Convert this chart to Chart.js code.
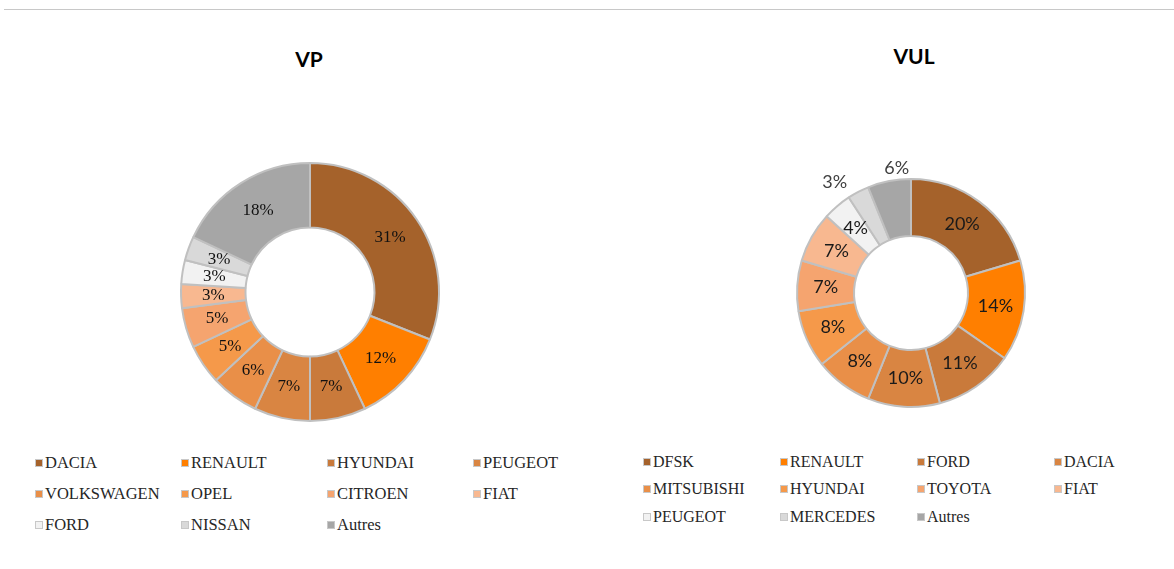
<!DOCTYPE html>
<html>
<head>
<meta charset="utf-8">
<script src="https://cdn.jsdelivr.net/npm/chart.js@4"></script>
<style>
  body { margin: 0; width: 1174px; height: 569px; background: #fff; position: relative; overflow: hidden; }
  .rule { position: absolute; left: 4px; right: 0; top: 9px; height: 1px; background: #c8c8c8; }
  .title { position: absolute; font-family: Lato, sans-serif; font-weight: bold; font-size: 21px; color: #000; transform: translateX(-50%); }
  .wrap { position: absolute; }
  .legend { position: absolute; display: grid; font-family: "Liberation Serif", serif; color: #262626; }
  .item { display: flex; align-items: center; white-space: nowrap; }
  .box { width: 6px; height: 6px; border: 1px solid #c8c8c8; margin-right: 2px; flex: none; }
</style>
</head>
<body>
<div class="rule"></div>
<div class="title" style="left:309px; top:46px;">VP</div>
<div class="title" style="left:914px; top:43px;">VUL</div>

<div class="wrap" style="left:170px; top:152px; width:280px; height:280px;"><canvas id="vpChart"></canvas></div>
<div class="wrap" style="left:761px; top:143px; width:300px; height:300px;"><canvas id="vulChart"></canvas></div>

<div class="legend" id="vpLegend" style="left:35px; top:447px; font-size:16.5px; grid-template-columns: repeat(4, 146px); grid-auto-rows: 31px;"></div>
<div class="legend" id="vulLegend" style="left:643px; top:448px; font-size:16px; grid-template-columns: repeat(4, 137px); grid-auto-rows: 27.5px;"></div>

<script>
// VP data
const vpLabels = ["DACIA", "RENAULT", "HYUNDAI", "PEUGEOT", "VOLKSWAGEN", "OPEL", "CITROEN", "FIAT", "FORD", "NISSAN", "Autres"];
const vpValues = [31, 12, 7, 7, 6, 5, 5, 3, 3, 3, 18];

// VUL data
const vulLabels = ["DFSK", "RENAULT", "FORD", "DACIA", "MITSUBISHI", "HYUNDAI", "TOYOTA", "FIAT", "PEUGEOT", "MERCEDES", "Autres"];
const vulValues = [20, 14, 11, 10, 8, 8, 7, 7, 4, 3, 6];

const palette = ["#a5622b", "#ff7f00", "#c97a3b", "#d98542", "#e98f48", "#f5994a", "#f5a46f", "#f8b890", "#f2f2f2", "#d9d9d9", "#a6a6a6"];

// draws the % labels on each slice
const pctLabels = {
    id: "pctLabels",
    afterDatasetsDraw(chart, args, opts) {
        const ctx = chart.ctx;
        const meta = chart.getDatasetMeta(0);
        const data = chart.data.datasets[0].data;
        ctx.save();
        ctx.font = opts.font;
        ctx.textAlign = "center";
        ctx.textBaseline = "middle";
        meta.data.forEach((arc, i) => {
            const p = arc.getProps(["x", "y", "startAngle", "endAngle", "innerRadius", "outerRadius"], true);
            let a = (p.startAngle + p.endAngle) / 2;
            let r = (p.innerRadius + p.outerRadius) / 2;
            const o = opts.outside && opts.outside[i];
            if (o) {
                r = p.outerRadius * o.r;
                a += o.a * Math.PI / 180;
            }
            ctx.fillStyle = o ? opts.outsideColor : opts.color;
            ctx.fillText(data[i] + "%", p.x + Math.cos(a) * r, p.y + Math.sin(a) * r);
        });
        ctx.restore();
    }
};

function makeDonut(id, labels, values, padding, labelOpts) {
    return new Chart(document.getElementById(id), {
        type: "doughnut",
        data: {
            labels: labels,
            datasets: [{
                data: values,
                backgroundColor: palette,
                borderColor: "#c0c0c0",
                borderWidth: 2
            }]
        },
        options: {
            responsive: true,
            maintainAspectRatio: false,
            animation: false,
            cutout: "50%",
            layout: { padding: padding },
            plugins: {
                legend: { display: false },
                tooltip: { enabled: false },
                pctLabels: labelOpts
            }
        },
        plugins: [pctLabels]
    });
}

makeDonut("vpChart", vpLabels, vpValues, 10, {
    font: "17px 'Liberation Serif', serif",
    color: "#111"
});

makeDonut("vulChart", vulLabels, vulValues, 35, {
    font: "18px Lato, sans-serif",
    color: "#1a1a1a",
    outsideColor: "#404040",
    outside: { 9: { r: 1.18, a: -7 }, 10: { r: 1.10, a: 4.5 } }
});

// legends in a 4 column grid
function buildLegend(elId, labels) {
    const el = document.getElementById(elId);
    el.innerHTML = labels.map((name, i) => `
        <div class="item"><span class="box" style="background:${palette[i]}"></span>${name}</div>
    `).join("");
}
buildLegend("vpLegend", vpLabels);
buildLegend("vulLegend", vulLabels);
</script>
</body>
</html>
